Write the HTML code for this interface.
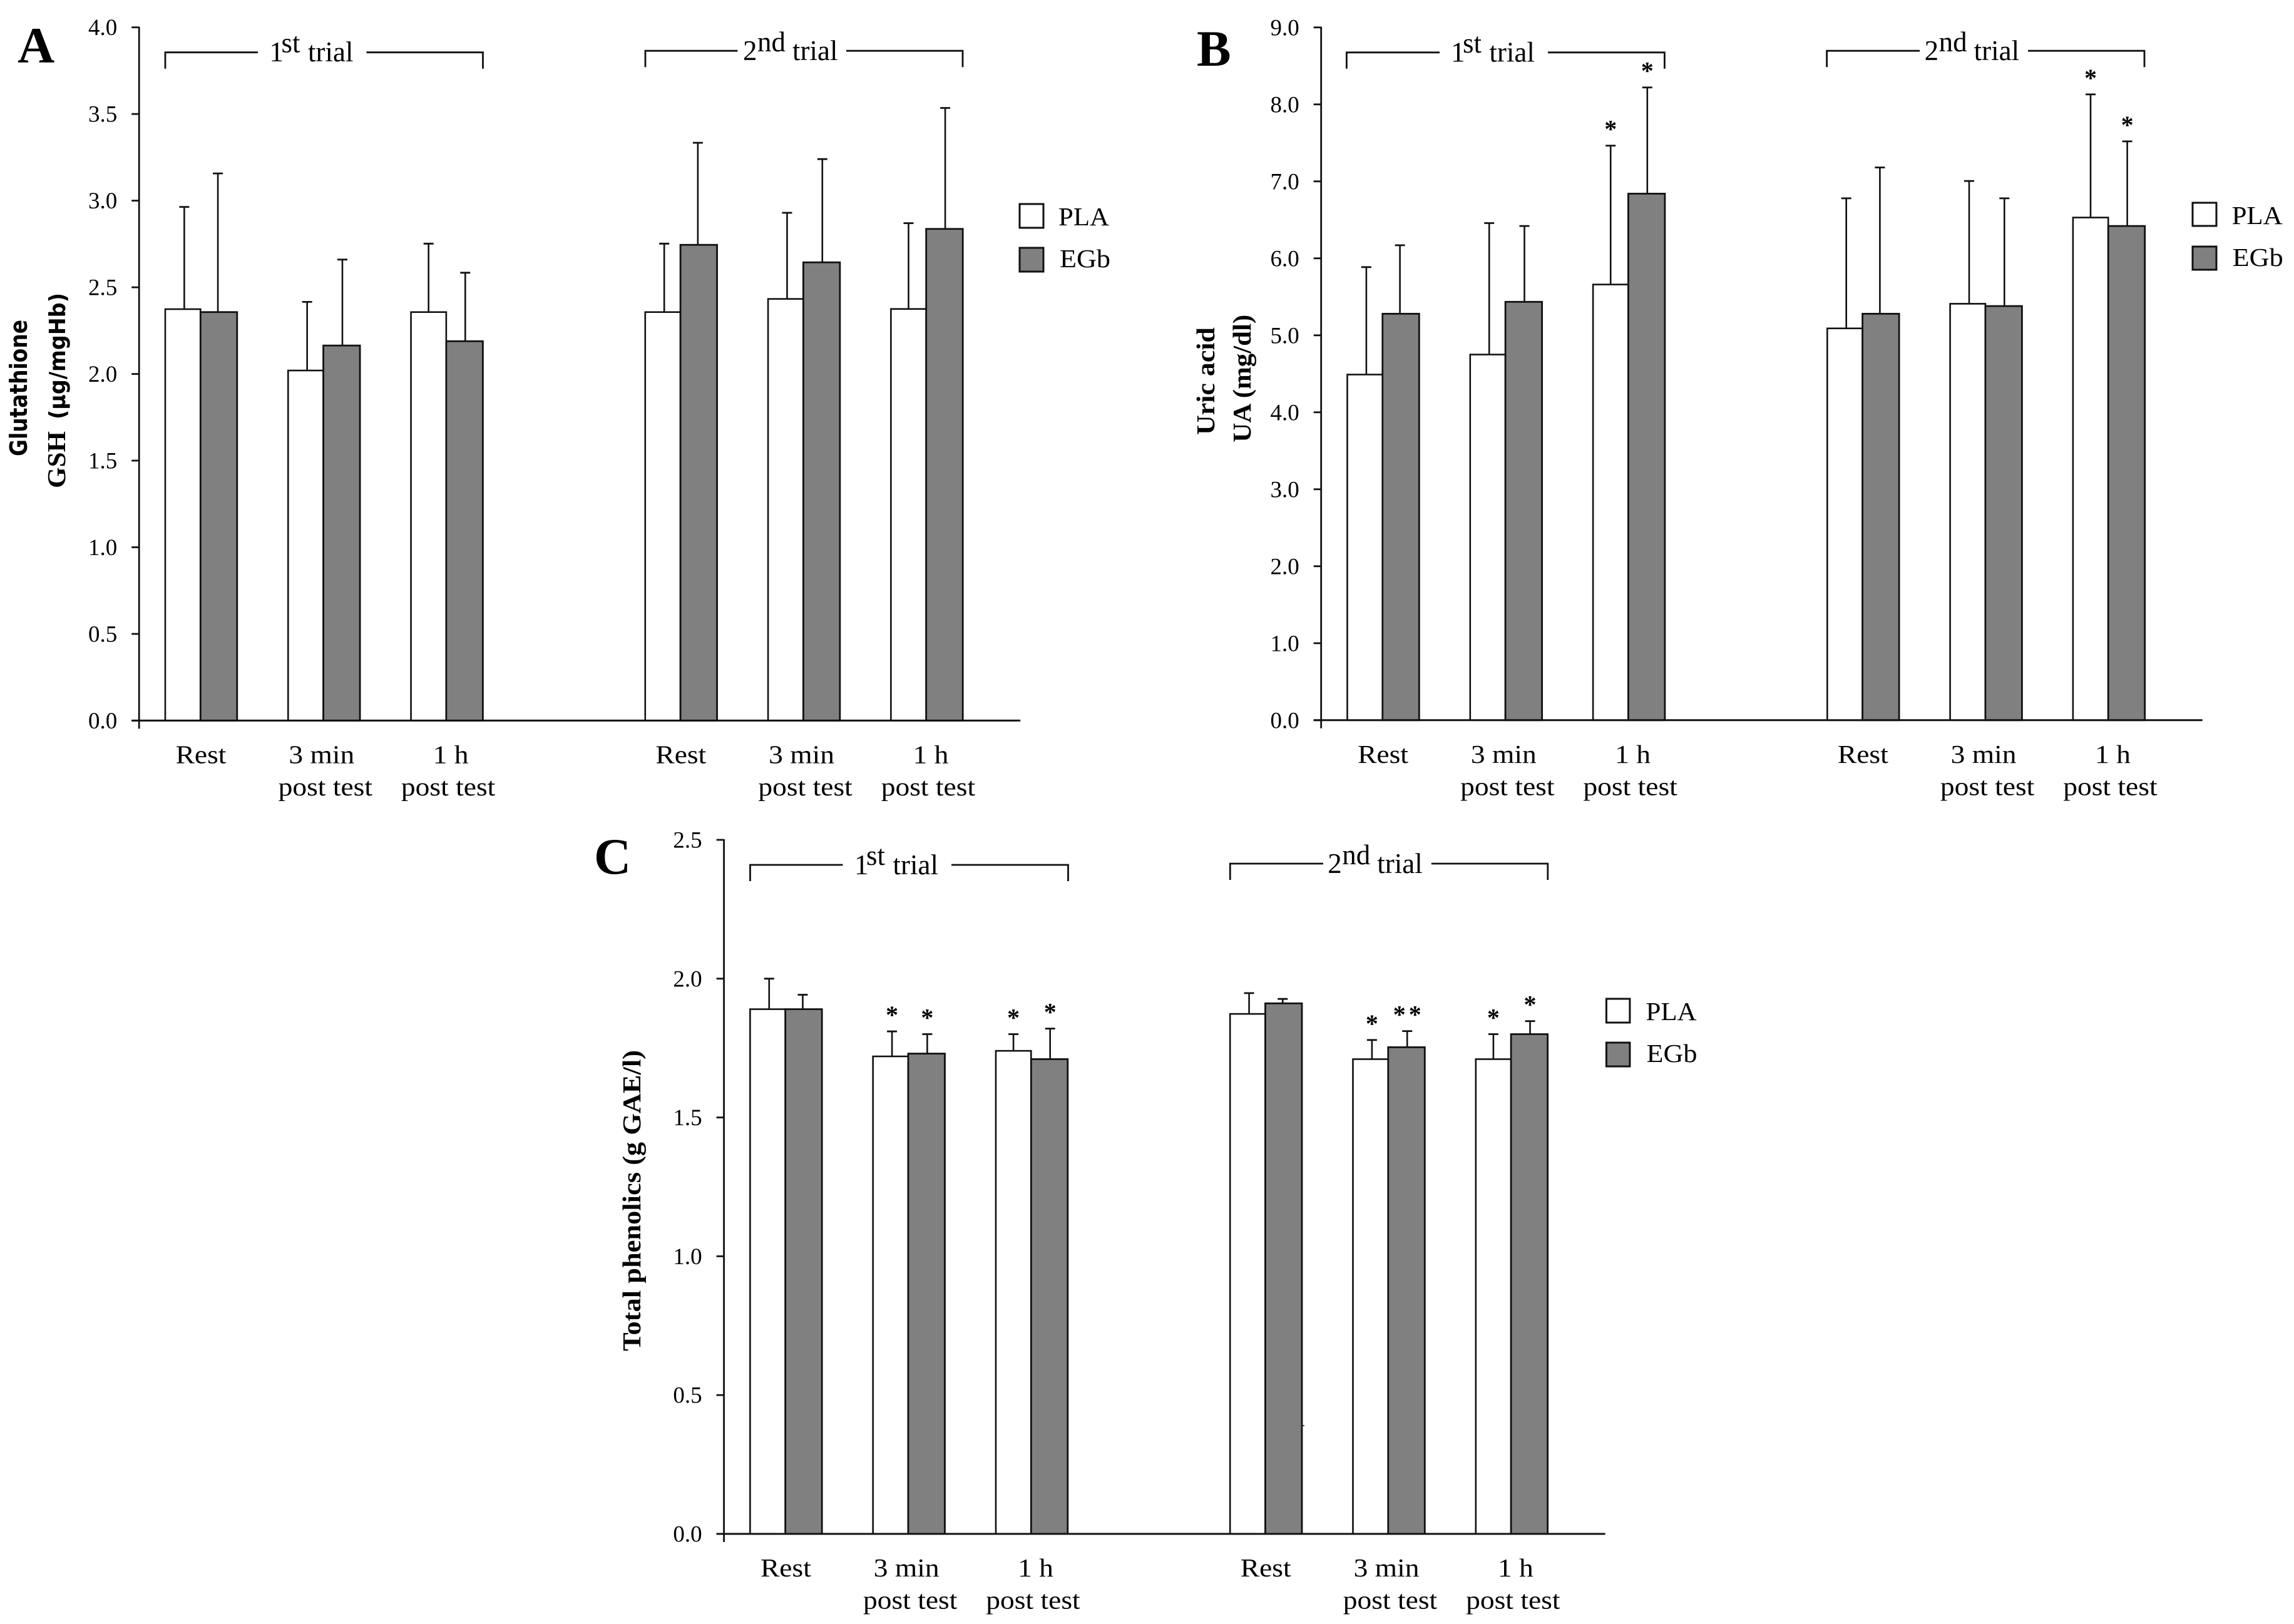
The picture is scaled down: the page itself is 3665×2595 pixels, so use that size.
<!DOCTYPE html>
<html lang="en">
<head>
<meta charset="utf-8">
<title>Glutathione, uric acid and total phenolics by trial</title>
<style>
html,body{margin:0;padding:0;background:#fff;}
svg{display:block;}
text{font-family:"Liberation Serif",serif;fill:#000;}
.tick{font-size:37px;text-anchor:end;}
.cat{font-size:41px;}
.trial{font-size:45px;}
.leg{font-size:41px;}
.letter{font-size:82px;font-weight:bold;}
.title{font-size:41px;font-weight:bold;}
.sans{font-family:"DejaVu Sans",sans-serif;font-weight:bold;}
.br{fill:none;stroke:#111;stroke-width:2.8;}
</style>
</head>
<body>
<svg id="figure" xmlns="http://www.w3.org/2000/svg" width="3665" height="2595" viewBox="0 0 3665 2595">
<rect x="0" y="0" width="3665" height="2595" fill="#fff"/>

<!-- Panel A static -->
<text class="letter" x="28" y="100">A</text>
<text class="sans" font-size="38" transform="translate(43,729) rotate(-90)" textLength="218" lengthAdjust="spacingAndGlyphs">Glutathione</text>
<text class="title" transform="translate(104,780) rotate(-90)" textLength="91" lengthAdjust="spacingAndGlyphs">GSH</text>
<text class="sans" font-size="36" transform="translate(104,670) rotate(-90)" textLength="202" lengthAdjust="spacingAndGlyphs">(µg/mgHb)</text>
<g transform="translate(264,83.7)">
<path class="br" d="M0 26V0H148M321.5 0H507.5V26"/>
<text class="trial"><tspan x="166.5" y="14.5">1</tspan><tspan x="185.5" y="0">st</tspan><tspan x="228" y="14.5">trial</tspan></text>
</g>
<g transform="translate(1031,81.2)">
<path class="br" d="M0 26V0H147.4M321 0H507V26"/>
<text class="trial"><tspan x="156" y="14.8">2</tspan><tspan x="179" y="0.8">nd</tspan><tspan x="235" y="14.8">trial</tspan></text>
</g>
<g>
<rect x="1629" y="326" width="38" height="38" fill="#fff" stroke="#111" stroke-width="3"/>
<text class="leg" x="1691" y="360" textLength="81" lengthAdjust="spacingAndGlyphs">PLA</text>
<rect x="1629" y="396" width="38" height="38" fill="#808080" stroke="#111" stroke-width="3"/>
<text class="leg" x="1693" y="427" textLength="81" lengthAdjust="spacingAndGlyphs">EGb</text>
</g>

<!-- Panel B static -->
<text class="letter" x="1912" y="105">B</text>
<text class="title" transform="translate(1940,695) rotate(-90)" textLength="172" lengthAdjust="spacingAndGlyphs">Uric acid</text>
<text class="title" transform="translate(1998,706.7) rotate(-90)" textLength="204" lengthAdjust="spacingAndGlyphs">UA (mg/dl)</text>
<g transform="translate(2151.4,83.8)">
<path class="br" d="M0 26V0H148.6M321.6 0H508V26"/>
<text class="trial"><tspan x="166.6" y="14.5">1</tspan><tspan x="185.6" y="0">st</tspan><tspan x="228" y="14.5">trial</tspan></text>
</g>
<g transform="translate(2918.6,81.2)">
<path class="br" d="M0 26V0H148.4M321.4 0H507.4V26"/>
<text class="trial"><tspan x="156" y="14.8">2</tspan><tspan x="179" y="0.8">nd</tspan><tspan x="235" y="14.8">trial</tspan></text>
</g>
<g>
<rect x="3503" y="324" width="38" height="37" fill="#fff" stroke="#111" stroke-width="3"/>
<text class="leg" x="3565.6" y="358" textLength="81" lengthAdjust="spacingAndGlyphs">PLA</text>
<rect x="3503" y="394" width="38" height="37" fill="#808080" stroke="#111" stroke-width="3"/>
<text class="leg" x="3566.7" y="425" textLength="81" lengthAdjust="spacingAndGlyphs">EGb</text>
</g>

<!-- Panel C static -->
<text class="letter" x="949" y="1396">C</text>
<text class="title" transform="translate(1023,2159) rotate(-90)" textLength="481" lengthAdjust="spacingAndGlyphs">Total phenolics (g GAE/l)</text>
<g transform="translate(1198.5,1382)">
<path class="br" d="M0 26V0H148M321.5 0H508V26"/>
<text class="trial"><tspan x="166.5" y="14.8">1</tspan><tspan x="185.5" y="0">st</tspan><tspan x="228" y="14.8">trial</tspan></text>
</g>
<g transform="translate(1965.3,1380)">
<path class="br" d="M0 26V0H148.7M321.5 0H507.5V26"/>
<text class="trial"><tspan x="156" y="15">2</tspan><tspan x="179" y="1">nd</tspan><tspan x="235" y="15">trial</tspan></text>
</g>
<g>
<rect x="2566.4" y="1596" width="37.5" height="38" fill="#fff" stroke="#111" stroke-width="3"/>
<text class="leg" x="2629.5" y="1630" textLength="81" lengthAdjust="spacingAndGlyphs">PLA</text>
<rect x="2566.4" y="1666" width="37.5" height="38" fill="#808080" stroke="#111" stroke-width="3"/>
<text class="leg" x="2630.5" y="1697" textLength="81" lengthAdjust="spacingAndGlyphs">EGb</text>
</g>
<rect x="2081" y="2277" width="3" height="2" fill="#555"/>

<g id="plots"></g>
</svg>

<script>
// Category labels (two lines, repeated for each trial)
const categoryLine1 = ['Rest', '3 min', '1 h', 'Rest', '3 min', '1 h'];
const categoryLine2 = ['', 'post test', 'post test', '', 'post test', 'post test'];

// Panel A: glutathione (µg/mgHb)
const gshTicks = ['0.0', '0.5', '1.0', '1.5', '2.0', '2.5', '3.0', '3.5', '4.0'];
const gshPla = [2.374, 2.02, 2.357, 2.357, 2.433, 2.375];
const gshEgb = [2.357, 2.164, 2.189, 2.745, 2.644, 2.837];
const gshPlaUpper = [2.964, 2.416, 2.752, 2.752, 2.93, 2.87];
const gshEgbUpper = [3.157, 2.66, 2.584, 3.334, 3.24, 3.535];
const gshPlaStars = [0, 0, 0, 0, 0, 0];
const gshEgbStars = [0, 0, 0, 0, 0, 0];

// Panel B: uric acid (mg/dl)
const uaTicks = ['0.0', '1.0', '2.0', '3.0', '4.0', '5.0', '6.0', '7.0', '8.0', '9.0'];
const uaPla = [4.49, 4.75, 5.66, 5.09, 5.41, 6.53];
const uaEgb = [5.28, 5.435, 6.84, 5.28, 5.38, 6.42];
const uaPlaUpper = [5.886, 6.458, 7.464, 6.78, 7.005, 8.13];
const uaEgbUpper = [6.17, 6.42, 8.22, 7.18, 6.78, 7.52];
const uaPlaStars = [0, 0, 1, 0, 0, 1];
const uaEgbStars = [0, 0, 1, 0, 0, 1];

// Panel C: total phenolics (g GAE/l)
const tpTicks = ['0.0', '0.5', '1.0', '1.5', '2.0', '2.5'];
const tpPla = [1.89, 1.72, 1.74, 1.873, 1.71, 1.71];
const tpEgb = [1.89, 1.73, 1.71, 1.911, 1.753, 1.80];
const tpPlaUpper = [2.0, 1.81, 1.80, 1.948, 1.779, 1.80];
const tpEgbUpper = [1.942, 1.80, 1.82, 1.927, 1.811, 1.847];
const tpPlaStars = [0, 1, 1, 0, 1, 1];
const tpEgbStars = [0, 1, 1, 0, 2, 1];

const NS = 'http://www.w3.org/2000/svg';
const root = document.getElementById('plots');

function make(tag, parent, name, attrs) {
  const el = document.createElementNS(NS, tag);
  
  
  for (const k in attrs) el.setAttribute(k, attrs[k]);
  parent.appendChild(el);
  return el;
}

function drawPanel(id, axisX, yTop, y0, maxVal, ticks, pla, egb, plaUp, egbUp, plaStars, egbStars) {
  const g = make('g', root, 'panel-' + id + '-plot', {});
  const yScale = function (v) { return y0 - (v / maxVal) * (y0 - yTop); };
  const xBand = function (i) { return axisX + 41.8 + 196.3 * i + (i >= 3 ? 177.9 : 0); };
  const minVal = 0;
  const stroke = '#111';

  // bars and whiskers
  categoryLine1.forEach(function (_, i) {
    const left = xBand(i);
    const slot = i % 3;
    const plaX = left + (slot === 2 ? 28.1 : 30.4);
    const egbX = left + (slot === 0 ? 84.1 : 86.7);

    make('line', g, 'error-bar-pla', { x1: plaX, x2: plaX, y1: yScale(pla[i]), y2: yScale(plaUp[i]), stroke: stroke, 'stroke-width': 2.6 });
    make('line', g, 'error-cap-pla', { x1: plaX - 8, x2: plaX + 8, y1: yScale(plaUp[i]), y2: yScale(plaUp[i]), stroke: stroke, 'stroke-width': 2.8 });
    make('line', g, 'error-bar-egb', { x1: egbX, x2: egbX, y1: yScale(egb[i]), y2: yScale(egbUp[i]), stroke: stroke, 'stroke-width': 2.6 });
    make('line', g, 'error-cap-egb', { x1: egbX - 8, x2: egbX + 8, y1: yScale(egbUp[i]), y2: yScale(egbUp[i]), stroke: stroke, 'stroke-width': 2.8 });

    make('rect', g, 'bar-pla', { x: left, y: yScale(pla[i]), width: 56.3, height: yScale(minVal) - yScale(pla[i]), fill: '#fff', stroke: stroke, 'stroke-width': 2.6 });
    make('rect', g, 'bar-egb', { x: left + 56.3, y: yScale(egb[i]), width: 58.5, height: yScale(minVal) - yScale(egb[i]), fill: '#808080', stroke: stroke, 'stroke-width': 2.8 });

    for (let s = 0; s < plaStars[i]; s++) {
      const t = make('text', g, 'significance-star-pla', { x: plaX, y: yScale(plaUp[i]) - 13, 'text-anchor': 'middle', 'font-size': 40, 'font-weight': 'bold' });
      t.textContent = '*';
    }
    for (let s = 0; s < egbStars[i]; s++) {
      const offset = egbStars[i] > 1 ? (s - (egbStars[i] - 1) / 2) * 25 : 0;
      const t = make('text', g, 'significance-star-egb', { x: egbX + offset, y: yScale(egbUp[i]) - 13, 'text-anchor': 'middle', 'font-size': 40, 'font-weight': 'bold' });
      t.textContent = '*';
    }

    const first = make('text', g, 'category-label', { class: 'cat', transform: 'translate(' + (left + 57 + (slot === 0 ? 0 : slot === 1 ? -3.5 : 6.5)) + ',' + (y0 + 68) + ') scale(1.11,1)', 'text-anchor': 'middle' });
    first.textContent = categoryLine1[i];
    if (categoryLine2[i]) {
      const second = make('text', g, 'category-label-line-2', { class: 'cat', transform: 'translate(' + (left + 59.5) + ',' + (y0 + 119.5) + ') scale(1.11,1)', 'text-anchor': 'middle' });
      second.textContent = categoryLine2[i];
    }
  });

  // axes
  make('line', g, 'y-axis', { x1: axisX, x2: axisX, y1: yTop - 1, y2: y0 + 13, stroke: stroke, 'stroke-width': 2.8 });
  make('line', g, 'x-axis', { x1: axisX - 12, x2: axisX + 1408, y1: y0, y2: y0, stroke: stroke, 'stroke-width': 3 });
  ticks.forEach(function (label) {
    const v = parseFloat(label);
    make('line', g, 'y-tick', { x1: axisX - 12, x2: axisX, y1: yScale(v), y2: yScale(v), stroke: stroke, 'stroke-width': 2.8 });
    const t = make('text', g, 'y-tick-label', { class: 'tick', x: axisX - 35, y: yScale(v) + 12.5 });
    t.textContent = label;
  });
}

drawPanel('a', 222.2, 43.7, 1151.4, 4.0, gshTicks, gshPla, gshEgb, gshPlaUpper, gshEgbUpper, gshPlaStars, gshEgbStars);
drawPanel('b', 2110.7, 43.8, 1150.8, 9.0, uaTicks, uaPla, uaEgb, uaPlaUpper, uaEgbUpper, uaPlaStars, uaEgbStars);
drawPanel('c', 1156.6, 1342, 2451, 2.5, tpTicks, tpPla, tpEgb, tpPlaUpper, tpEgbUpper, tpPlaStars, tpEgbStars);
</script>
</body>
</html>
